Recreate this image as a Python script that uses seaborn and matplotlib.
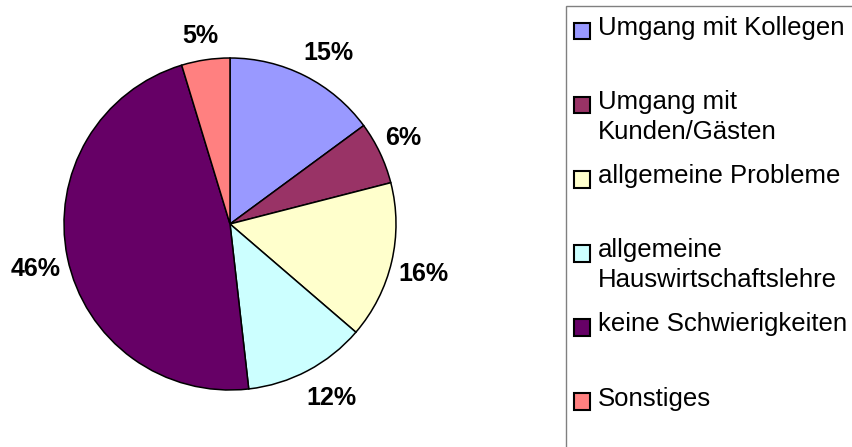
import matplotlib
matplotlib.use("Agg")
import numpy as np
import matplotlib.pyplot as plt
import seaborn as sns
from matplotlib.patches import Rectangle
from matplotlib.legend_handler import HandlerPatch

categories = ["Umgang mit Kollegen", "Umgang mit\nKunden/Gästen", "allgemeine Probleme",
              "allgemeine\nHauswirtschaftslehre", "keine Schwierigkeiten", "Sonstiges"]
shares = [14.9, 6.1, 15.3, 11.9, 47.1, 4.7]
pct_labels = ["15%", "6%", "16%", "12%", "46%", "5%"]
colors = ["#9999FF", "#993366", "#FFFFCC", "#CCFFFF", "#660066", "#FF8080"]

sns.set_theme(style="white")
plt.rcParams['font.family'] = ['Liberation Sans', 'DejaVu Sans']
plt.rcParams['text.color'] = 'black'

W, H = 853, 447
fig = plt.figure(figsize=(W / 100, H / 100), dpi=100)

# pie: centre (230, 224) px, radius 166 px
cx, cy, r = 230, 224, 166
ax = fig.add_axes([(cx - r) / W, (H - cy - r) / H, 2 * r / W, 2 * r / H])
wedges, _ = ax.pie(shares, colors=colors, startangle=90, counterclock=False,
                   wedgeprops=dict(edgecolor='black', linewidth=1.1))
ax.set_xlim(-1, 1)
ax.set_ylim(-1, 1)
ax.set_aspect('equal')
ax.axis('off')

# percentage labels outside the wedges, pushed out by their own size (Excel style)
texts = [ax.text(0, 0, lab, fontsize=18, fontweight='bold', color='black',
                 ha='center', va='center_baseline') for lab in pct_labels]
fig.canvas.draw()
renderer = fig.canvas.get_renderer()
for w, t in zip(wedges, texts):
    ang = np.deg2rad((w.theta1 + w.theta2) / 2)
    bb = t.get_window_extent(renderer)
    hw = (bb.width / 2 - 5) / r
    hh = 15 / r
    x = 1.07 * np.cos(ang) + hw * np.clip(2 * np.cos(ang), -1, 1)
    y = 1.07 * np.sin(ang) + hh * np.clip(2 * np.sin(ang), -1, 1)
    t.set_position((x, y))

# legend frame, runs off the right and bottom edge like the original
fig.patches.append(Rectangle((566 / W, -0.1), 0.5, 1.1 - 6 / H, transform=fig.transFigure,
                             facecolor='white', edgecolor='#808080', linewidth=1.0, zorder=0))


def first_line_box(legend, orig_handle, xdescent, ydescent, width, height, fontsize):
    # put the swatch next to the first text line
    return Rectangle((-xdescent, -ydescent + 9), width, height)


labels = [c if "\n" in c else c + "\n " for c in categories]
leg = fig.legend(wedges, labels, loc='upper left', bbox_to_anchor=(574 / W, 1 - 16 / H),
                 frameon=False, fontsize=18.5, borderpad=0, borderaxespad=0,
                 handlelength=0.62, handleheight=0.62, handletextpad=0.3,
                 labelspacing=0.78,
                 handler_map={w: HandlerPatch(patch_func=first_line_box) for w in wedges})
for t in leg.get_texts():
    t.set_linespacing(1.32)
    t.set_color('black')
for h in leg.legend_handles:
    h.set_edgecolor('black')
    h.set_linewidth(1.5)

fig.savefig("out.png", dpi=100)
